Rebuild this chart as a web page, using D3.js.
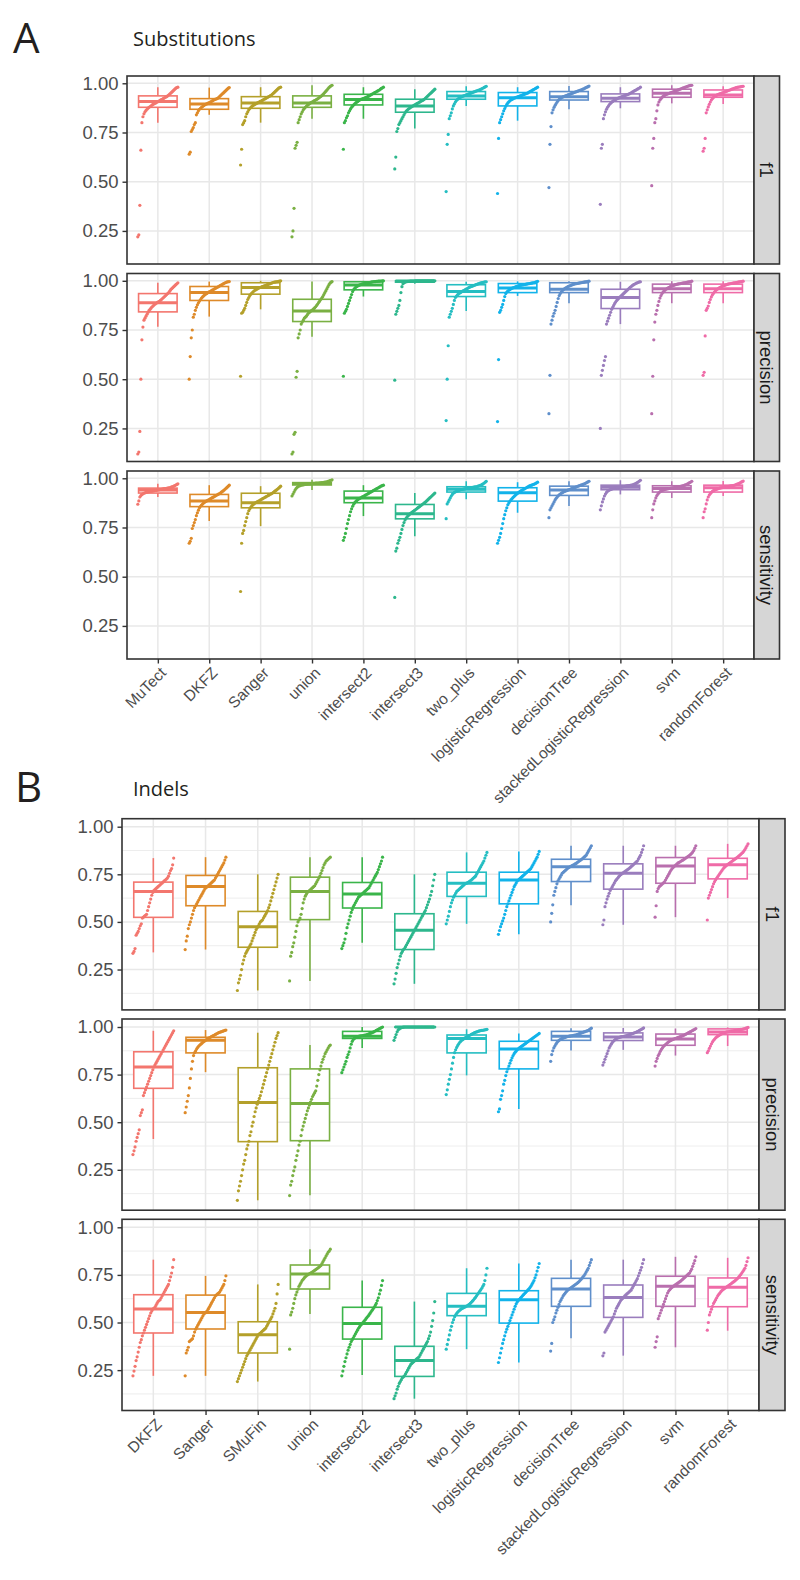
<!DOCTYPE html>
<html><head><meta charset="utf-8">
<script src="https://cdn.jsdelivr.net/npm/d3@7"></script>
<style>body{margin:0;background:#fff}svg{display:block}</style>
</head><body>
<svg id="chart" width="800" height="1580"></svg>
<script>
const categoriesA = ["MuTect","DKFZ","Sanger","union","intersect2","intersect3","two_plus","logisticRegression","decisionTree","stackedLogisticRegression","svm","randomForest"];
const categoriesB = ["DKFZ","Sanger","SMuFin","union","intersect2","intersect3","two_plus","logisticRegression","decisionTree","stackedLogisticRegression","svm","randomForest"];
const metrics = ["f1","precision","sensitivity"];
const yTicks = [0.25,0.5,0.75,1.0];
const minorTicksB = [0.125,0.375,0.625,0.875];
const palette = ["#F3766E","#DE8A29","#B4A02A","#7AB043","#3AB54A","#2DB78D","#25BEC2","#12B3EA","#5F8FCB","#9A7DBD","#B96FAE","#EF6BA7"];

// ---------- A: Substitutions (sorted per-sample values) ----------
const subF1Points = [
[0.22,0.23,0.38,0.66,0.80,0.83,0.845,0.855,0.862,0.868,0.874,0.878,0.882,0.886,0.89,0.893,0.896,0.899,0.902,0.905,0.908,0.911,0.914,0.917,0.92,0.923,0.926,0.929,0.932,0.936,0.94,0.945,0.95,0.955,0.96,0.965,0.97,0.975,0.978,0.98],
[0.64,0.65,0.755,0.765,0.775,0.79,0.80,0.84,0.85,0.86,0.868,0.873,0.878,0.882,0.886,0.89,0.893,0.895,0.898,0.90,0.903,0.906,0.909,0.912,0.915,0.918,0.92,0.922,0.925,0.93,0.935,0.94,0.945,0.95,0.955,0.96,0.965,0.97,0.975,0.978],
[0.585,0.665,0.79,0.80,0.81,0.83,0.845,0.855,0.865,0.872,0.878,0.883,0.887,0.89,0.893,0.896,0.899,0.902,0.905,0.908,0.91,0.913,0.916,0.919,0.922,0.925,0.928,0.931,0.934,0.937,0.94,0.945,0.95,0.955,0.96,0.965,0.97,0.975,0.978,0.98],
[0.22,0.25,0.365,0.67,0.685,0.70,0.80,0.815,0.83,0.845,0.855,0.865,0.872,0.878,0.883,0.888,0.892,0.896,0.90,0.903,0.906,0.909,0.912,0.915,0.918,0.921,0.925,0.929,0.933,0.937,0.942,0.948,0.954,0.96,0.966,0.972,0.978,0.983,0.987,0.99],
[0.665,0.80,0.81,0.825,0.835,0.85,0.86,0.87,0.878,0.885,0.89,0.895,0.90,0.904,0.908,0.912,0.915,0.918,0.92,0.922,0.924,0.926,0.928,0.93,0.933,0.936,0.939,0.942,0.945,0.948,0.951,0.954,0.957,0.96,0.963,0.966,0.97,0.974,0.977,0.98],
[0.565,0.625,0.755,0.77,0.79,0.80,0.81,0.82,0.83,0.84,0.85,0.857,0.863,0.868,0.872,0.876,0.88,0.883,0.886,0.889,0.892,0.895,0.898,0.901,0.904,0.907,0.91,0.913,0.916,0.92,0.925,0.93,0.935,0.94,0.945,0.95,0.955,0.96,0.965,0.97],
[0.45,0.69,0.74,0.82,0.835,0.85,0.87,0.885,0.895,0.905,0.912,0.918,0.922,0.926,0.929,0.932,0.934,0.936,0.938,0.94,0.942,0.944,0.946,0.948,0.95,0.952,0.954,0.956,0.958,0.96,0.962,0.964,0.966,0.968,0.97,0.973,0.976,0.979,0.982,0.985],
[0.44,0.72,0.80,0.815,0.83,0.845,0.86,0.872,0.883,0.893,0.90,0.906,0.911,0.915,0.918,0.921,0.924,0.926,0.928,0.93,0.932,0.934,0.936,0.938,0.94,0.942,0.944,0.946,0.948,0.95,0.953,0.956,0.959,0.962,0.965,0.968,0.971,0.974,0.977,0.98],
[0.47,0.69,0.78,0.85,0.865,0.878,0.888,0.897,0.905,0.912,0.918,0.922,0.926,0.929,0.932,0.934,0.936,0.938,0.94,0.942,0.944,0.946,0.948,0.95,0.952,0.954,0.956,0.958,0.96,0.962,0.964,0.966,0.968,0.97,0.972,0.975,0.978,0.98,0.983,0.986],
[0.385,0.67,0.69,0.82,0.84,0.855,0.868,0.878,0.886,0.893,0.899,0.904,0.908,0.912,0.915,0.918,0.921,0.924,0.926,0.928,0.93,0.932,0.934,0.936,0.938,0.94,0.942,0.944,0.946,0.949,0.952,0.955,0.958,0.961,0.964,0.967,0.97,0.973,0.976,0.98],
[0.48,0.67,0.72,0.80,0.82,0.86,0.89,0.905,0.915,0.922,0.928,0.933,0.937,0.94,0.943,0.945,0.947,0.949,0.951,0.953,0.955,0.957,0.959,0.961,0.963,0.965,0.967,0.969,0.971,0.973,0.975,0.977,0.979,0.981,0.983,0.985,0.987,0.988,0.989,0.99],
[0.655,0.67,0.72,0.85,0.865,0.88,0.893,0.905,0.915,0.922,0.928,0.932,0.936,0.939,0.942,0.944,0.946,0.948,0.95,0.952,0.954,0.956,0.958,0.96,0.962,0.964,0.966,0.968,0.97,0.972,0.974,0.976,0.978,0.979,0.98,0.981,0.982,0.983,0.984,0.985]
];
const subPrecPoints = [
[0.12,0.13,0.235,0.50,0.70,0.765,0.80,0.81,0.82,0.83,0.84,0.85,0.856,0.862,0.868,0.873,0.878,0.882,0.886,0.89,0.893,0.896,0.90,0.905,0.91,0.915,0.92,0.925,0.93,0.935,0.94,0.947,0.955,0.96,0.965,0.97,0.975,0.98,0.985,0.99],
[0.50,0.615,0.71,0.75,0.815,0.83,0.85,0.865,0.878,0.888,0.897,0.905,0.912,0.918,0.923,0.928,0.932,0.936,0.939,0.942,0.945,0.948,0.951,0.954,0.957,0.96,0.963,0.966,0.969,0.972,0.975,0.978,0.981,0.984,0.987,0.99,0.992,0.994,0.995,0.996],
[0.515,0.835,0.84,0.85,0.86,0.875,0.89,0.905,0.915,0.925,0.932,0.938,0.943,0.948,0.952,0.955,0.958,0.961,0.964,0.966,0.968,0.97,0.972,0.974,0.976,0.978,0.98,0.982,0.984,0.986,0.988,0.99,0.992,0.993,0.994,0.995,0.996,0.997,0.998,1.0],
[0.12,0.13,0.22,0.23,0.51,0.54,0.71,0.73,0.75,0.78,0.79,0.80,0.81,0.815,0.82,0.828,0.835,0.84,0.845,0.848,0.852,0.857,0.862,0.868,0.875,0.882,0.89,0.897,0.905,0.912,0.92,0.93,0.94,0.95,0.96,0.97,0.98,0.988,0.993,0.996],
[0.515,0.835,0.845,0.855,0.87,0.885,0.90,0.915,0.93,0.945,0.955,0.962,0.967,0.971,0.974,0.977,0.979,0.981,0.983,0.985,0.986,0.987,0.988,0.989,0.99,0.991,0.992,0.993,0.994,0.995,0.996,0.996,0.997,0.997,0.998,0.998,0.999,0.999,1.0,1.0],
[0.495,0.83,0.845,0.86,0.875,0.90,0.94,0.97,0.985,0.99,0.993,0.995,0.996,0.997,0.997,0.998,0.998,0.998,0.999,0.999,1,1,1,1,1,1,1,1,1,1,1,1,1,1,1,1,1,1,1,1],
[0.29,0.50,0.67,0.815,0.83,0.845,0.86,0.88,0.90,0.915,0.922,0.928,0.933,0.937,0.941,0.944,0.947,0.95,0.953,0.956,0.959,0.962,0.965,0.968,0.97,0.972,0.974,0.976,0.978,0.98,0.982,0.984,0.986,0.988,0.99,0.991,0.992,0.993,0.994,0.995],
[0.285,0.60,0.84,0.85,0.865,0.88,0.90,0.92,0.935,0.943,0.948,0.952,0.956,0.959,0.962,0.964,0.966,0.968,0.97,0.972,0.974,0.976,0.977,0.978,0.979,0.98,0.981,0.982,0.983,0.984,0.985,0.986,0.987,0.988,0.989,0.99,0.991,0.993,0.995,0.997],
[0.325,0.52,0.78,0.80,0.82,0.835,0.85,0.87,0.89,0.91,0.925,0.935,0.943,0.95,0.955,0.959,0.963,0.966,0.969,0.972,0.974,0.976,0.978,0.98,0.982,0.984,0.985,0.986,0.987,0.988,0.989,0.99,0.991,0.992,0.993,0.994,0.995,0.996,0.997,0.998],
[0.25,0.52,0.545,0.57,0.595,0.615,0.78,0.795,0.81,0.825,0.84,0.855,0.865,0.875,0.885,0.893,0.90,0.906,0.912,0.917,0.922,0.927,0.932,0.937,0.942,0.947,0.952,0.957,0.962,0.967,0.971,0.975,0.979,0.982,0.985,0.988,0.99,0.992,0.994,0.995],
[0.325,0.515,0.70,0.79,0.83,0.85,0.875,0.895,0.912,0.925,0.935,0.942,0.948,0.953,0.957,0.961,0.964,0.967,0.97,0.972,0.974,0.976,0.978,0.98,0.982,0.983,0.984,0.985,0.986,0.987,0.988,0.989,0.99,0.991,0.992,0.993,0.994,0.995,0.996,0.998],
[0.52,0.535,0.72,0.85,0.86,0.872,0.89,0.905,0.918,0.928,0.936,0.943,0.949,0.954,0.958,0.962,0.965,0.968,0.971,0.973,0.975,0.977,0.979,0.981,0.983,0.984,0.985,0.986,0.987,0.988,0.989,0.99,0.991,0.992,0.993,0.994,0.995,0.996,0.997,0.998]
];
const subSensPoints = [
[0.868,0.885,0.905,0.912,0.917,0.921,0.924,0.926,0.928,0.93,0.931,0.932,0.933,0.934,0.935,0.936,0.937,0.938,0.939,0.94,0.941,0.942,0.943,0.944,0.945,0.946,0.947,0.948,0.949,0.95,0.951,0.952,0.954,0.956,0.958,0.96,0.963,0.966,0.969,0.972],
[0.67,0.68,0.695,0.745,0.76,0.775,0.79,0.81,0.825,0.838,0.85,0.858,0.864,0.869,0.874,0.878,0.882,0.885,0.888,0.891,0.894,0.897,0.90,0.903,0.906,0.909,0.912,0.915,0.918,0.921,0.924,0.928,0.932,0.936,0.94,0.945,0.95,0.955,0.96,0.965],
[0.425,0.67,0.72,0.735,0.76,0.78,0.80,0.82,0.835,0.845,0.853,0.86,0.865,0.87,0.874,0.877,0.88,0.883,0.886,0.889,0.892,0.895,0.898,0.901,0.904,0.907,0.91,0.913,0.916,0.919,0.922,0.925,0.929,0.933,0.937,0.941,0.945,0.95,0.955,0.96],
[0.91,0.92,0.93,0.94,0.948,0.954,0.958,0.961,0.963,0.965,0.966,0.967,0.968,0.969,0.97,0.971,0.971,0.972,0.972,0.973,0.973,0.974,0.974,0.975,0.975,0.976,0.976,0.977,0.977,0.978,0.978,0.979,0.98,0.981,0.982,0.984,0.986,0.988,0.99,0.992],
[0.685,0.70,0.72,0.745,0.77,0.79,0.81,0.83,0.845,0.858,0.868,0.876,0.882,0.887,0.891,0.895,0.898,0.901,0.904,0.907,0.91,0.913,0.916,0.919,0.922,0.925,0.928,0.931,0.934,0.937,0.94,0.943,0.946,0.949,0.952,0.955,0.958,0.961,0.963,0.965],
[0.395,0.63,0.645,0.67,0.685,0.70,0.72,0.74,0.76,0.775,0.788,0.797,0.804,0.81,0.815,0.82,0.824,0.828,0.832,0.836,0.84,0.844,0.848,0.852,0.856,0.86,0.864,0.868,0.872,0.876,0.88,0.885,0.89,0.895,0.90,0.905,0.91,0.915,0.92,0.925],
[0.795,0.87,0.88,0.89,0.90,0.91,0.918,0.924,0.928,0.931,0.934,0.936,0.938,0.94,0.942,0.943,0.944,0.945,0.946,0.947,0.948,0.949,0.95,0.951,0.952,0.953,0.954,0.955,0.956,0.957,0.958,0.96,0.962,0.964,0.966,0.969,0.972,0.976,0.98,0.985],
[0.67,0.685,0.70,0.72,0.745,0.77,0.795,0.815,0.835,0.85,0.865,0.875,0.883,0.89,0.896,0.902,0.907,0.912,0.917,0.922,0.926,0.93,0.934,0.937,0.94,0.943,0.946,0.949,0.952,0.955,0.958,0.961,0.963,0.965,0.967,0.969,0.971,0.974,0.977,0.98],
[0.80,0.84,0.85,0.86,0.87,0.88,0.89,0.898,0.905,0.911,0.916,0.92,0.924,0.927,0.93,0.933,0.935,0.937,0.939,0.941,0.943,0.945,0.947,0.949,0.951,0.953,0.955,0.957,0.959,0.961,0.963,0.965,0.967,0.969,0.971,0.973,0.976,0.979,0.982,0.985],
[0.84,0.86,0.88,0.895,0.91,0.92,0.928,0.934,0.938,0.941,0.943,0.945,0.947,0.948,0.949,0.95,0.951,0.952,0.953,0.954,0.955,0.956,0.957,0.958,0.959,0.96,0.961,0.962,0.963,0.964,0.965,0.966,0.968,0.97,0.972,0.975,0.978,0.982,0.986,0.99],
[0.80,0.84,0.87,0.885,0.90,0.912,0.92,0.926,0.931,0.935,0.938,0.94,0.942,0.944,0.945,0.946,0.947,0.948,0.949,0.95,0.951,0.952,0.953,0.954,0.955,0.956,0.957,0.958,0.959,0.96,0.961,0.963,0.965,0.967,0.969,0.972,0.975,0.978,0.981,0.985],
[0.80,0.83,0.845,0.87,0.89,0.905,0.915,0.922,0.928,0.933,0.937,0.94,0.942,0.944,0.946,0.948,0.95,0.951,0.952,0.953,0.954,0.955,0.956,0.957,0.958,0.959,0.96,0.961,0.962,0.963,0.964,0.966,0.968,0.97,0.972,0.974,0.977,0.98,0.983,0.986]
];
// box stats: [lower whisker, Q1, median, Q3, upper whisker]
const subF1Box = [[0.80,0.878,0.907,0.936,0.98],[0.84,0.868,0.895,0.922,0.978],[0.80,0.873,0.90,0.932,0.98],[0.82,0.878,0.90,0.936,0.99],[0.82,0.89,0.918,0.944,0.98],[0.77,0.853,0.885,0.919,0.97],[0.885,0.919,0.936,0.958,0.985],[0.81,0.885,0.927,0.953,0.98],[0.868,0.915,0.932,0.958,0.986],[0.873,0.907,0.924,0.946,0.98],[0.898,0.929,0.95,0.97,0.99],[0.895,0.929,0.94,0.966,0.985]];
const subPrecBox = [[0.767,0.842,0.889,0.935,0.99],[0.818,0.90,0.94,0.971,0.996],[0.855,0.932,0.966,0.99,1.0],[0.716,0.793,0.847,0.906,0.996],[0.92,0.954,0.978,0.995,1.0],[0.985,0.993,0.999,1.0,1.0],[0.847,0.92,0.945,0.98,0.995],[0.923,0.94,0.963,0.986,0.997],[0.886,0.94,0.957,0.99,0.998],[0.78,0.859,0.915,0.957,0.995],[0.886,0.94,0.96,0.983,0.998],[0.886,0.94,0.96,0.983,0.998]];
const subSensBox = [[0.905,0.925,0.94,0.95,0.972],[0.783,0.856,0.885,0.918,0.965],[0.757,0.85,0.876,0.924,0.96],[0.94,0.966,0.973,0.978,0.992],[0.808,0.876,0.90,0.935,0.965],[0.706,0.794,0.82,0.867,0.925],[0.893,0.93,0.944,0.957,0.985],[0.825,0.884,0.927,0.952,0.98],[0.859,0.913,0.94,0.96,0.985],[0.918,0.942,0.954,0.965,0.99],[0.90,0.93,0.948,0.962,0.985],[0.91,0.93,0.952,0.965,0.986]];

// ---------- B: Indels ----------
const indF1Points = [
[0.335,0.345,0.36,0.43,0.44,0.45,0.465,0.48,0.49,0.52,0.525,0.53,0.535,0.54,0.56,0.58,0.60,0.62,0.64,0.655,0.665,0.67,0.675,0.68,0.685,0.69,0.695,0.70,0.705,0.71,0.715,0.72,0.725,0.73,0.74,0.755,0.77,0.78,0.80,0.835],
[0.355,0.40,0.425,0.465,0.485,0.50,0.52,0.54,0.56,0.575,0.585,0.595,0.605,0.615,0.625,0.635,0.645,0.655,0.665,0.675,0.68,0.685,0.69,0.695,0.70,0.705,0.71,0.715,0.72,0.73,0.74,0.75,0.76,0.77,0.78,0.79,0.80,0.81,0.825,0.84],
[0.14,0.18,0.20,0.22,0.25,0.28,0.30,0.32,0.335,0.345,0.355,0.365,0.375,0.385,0.40,0.415,0.43,0.445,0.46,0.47,0.48,0.49,0.50,0.505,0.51,0.52,0.53,0.54,0.55,0.56,0.575,0.59,0.61,0.63,0.65,0.67,0.69,0.71,0.73,0.75],
[0.19,0.32,0.34,0.37,0.39,0.42,0.45,0.48,0.50,0.51,0.52,0.54,0.57,0.60,0.62,0.635,0.645,0.655,0.66,0.665,0.67,0.675,0.68,0.685,0.69,0.70,0.71,0.72,0.73,0.74,0.755,0.77,0.785,0.80,0.81,0.82,0.825,0.83,0.835,0.84],
[0.36,0.375,0.39,0.41,0.44,0.47,0.49,0.51,0.53,0.55,0.565,0.58,0.59,0.60,0.61,0.62,0.63,0.635,0.64,0.645,0.65,0.655,0.66,0.665,0.67,0.675,0.68,0.69,0.70,0.71,0.72,0.73,0.74,0.75,0.76,0.775,0.79,0.805,0.82,0.84],
[0.175,0.20,0.23,0.26,0.28,0.30,0.32,0.335,0.345,0.355,0.36,0.37,0.38,0.39,0.40,0.41,0.42,0.43,0.44,0.45,0.46,0.47,0.48,0.49,0.50,0.51,0.52,0.53,0.54,0.55,0.56,0.575,0.59,0.605,0.62,0.64,0.66,0.69,0.72,0.75],
[0.49,0.51,0.53,0.555,0.58,0.60,0.615,0.63,0.64,0.65,0.66,0.665,0.67,0.675,0.68,0.685,0.69,0.695,0.70,0.702,0.705,0.708,0.712,0.716,0.72,0.725,0.73,0.735,0.74,0.75,0.76,0.77,0.78,0.79,0.80,0.81,0.82,0.835,0.85,0.865],
[0.435,0.455,0.475,0.49,0.505,0.52,0.54,0.56,0.58,0.595,0.61,0.625,0.64,0.655,0.67,0.685,0.695,0.705,0.715,0.72,0.725,0.73,0.735,0.74,0.745,0.75,0.755,0.76,0.765,0.77,0.775,0.78,0.79,0.80,0.81,0.82,0.83,0.84,0.855,0.87],
[0.50,0.545,0.59,0.64,0.66,0.68,0.70,0.715,0.725,0.735,0.745,0.755,0.76,0.765,0.77,0.775,0.78,0.785,0.788,0.791,0.794,0.797,0.80,0.803,0.806,0.81,0.814,0.818,0.822,0.826,0.83,0.835,0.84,0.845,0.85,0.86,0.87,0.88,0.89,0.90],
[0.485,0.51,0.58,0.60,0.62,0.635,0.65,0.665,0.675,0.685,0.695,0.705,0.715,0.722,0.729,0.736,0.742,0.748,0.752,0.756,0.76,0.764,0.768,0.772,0.776,0.78,0.785,0.79,0.795,0.80,0.805,0.81,0.815,0.82,0.83,0.84,0.85,0.865,0.88,0.90],
[0.525,0.585,0.66,0.675,0.685,0.69,0.695,0.70,0.705,0.71,0.72,0.73,0.74,0.75,0.76,0.77,0.778,0.785,0.79,0.795,0.80,0.805,0.81,0.813,0.816,0.82,0.823,0.826,0.83,0.834,0.838,0.842,0.846,0.85,0.855,0.86,0.867,0.875,0.887,0.90],
[0.51,0.625,0.64,0.655,0.67,0.685,0.70,0.712,0.722,0.73,0.738,0.746,0.754,0.762,0.77,0.778,0.785,0.79,0.795,0.80,0.804,0.808,0.812,0.816,0.82,0.824,0.828,0.832,0.836,0.84,0.845,0.85,0.855,0.86,0.865,0.872,0.88,0.89,0.90,0.91]
];
const indPrecPoints = [
[0.33,0.35,0.37,0.40,0.42,0.44,0.46,0.535,0.55,0.565,0.64,0.655,0.67,0.685,0.70,0.715,0.73,0.745,0.76,0.775,0.79,0.80,0.81,0.82,0.83,0.84,0.85,0.86,0.87,0.88,0.89,0.90,0.91,0.92,0.93,0.94,0.95,0.96,0.97,0.98],
[0.55,0.58,0.61,0.64,0.68,0.73,0.78,0.82,0.85,0.865,0.875,0.885,0.893,0.90,0.905,0.91,0.915,0.92,0.924,0.928,0.932,0.936,0.94,0.943,0.946,0.949,0.952,0.955,0.958,0.961,0.964,0.967,0.97,0.972,0.974,0.976,0.978,0.98,0.982,0.984],
[0.09,0.14,0.165,0.19,0.22,0.25,0.28,0.30,0.33,0.36,0.38,0.40,0.43,0.45,0.48,0.50,0.53,0.555,0.575,0.595,0.61,0.625,0.64,0.66,0.68,0.70,0.72,0.74,0.76,0.78,0.80,0.82,0.84,0.86,0.88,0.90,0.92,0.94,0.955,0.97],
[0.115,0.17,0.19,0.22,0.245,0.265,0.30,0.325,0.35,0.38,0.40,0.43,0.46,0.48,0.50,0.52,0.54,0.56,0.575,0.59,0.605,0.62,0.635,0.645,0.655,0.665,0.69,0.72,0.75,0.775,0.795,0.815,0.83,0.845,0.86,0.87,0.88,0.89,0.90,0.905],
[0.76,0.775,0.79,0.805,0.82,0.84,0.855,0.87,0.89,0.91,0.925,0.935,0.94,0.944,0.947,0.949,0.951,0.952,0.953,0.954,0.955,0.956,0.957,0.958,0.96,0.962,0.964,0.966,0.968,0.97,0.973,0.976,0.979,0.982,0.985,0.988,0.991,0.994,0.997,1.0],
[0.93,0.945,0.96,0.975,0.985,0.99,0.994,0.997,0.998,0.999,1,1,1,1,1,1,1,1,1,1,1,1,1,1,1,1,1,1,1,1,1,1,1,1,1,1,1,1,1,1],
[0.645,0.67,0.70,0.725,0.75,0.78,0.81,0.84,0.865,0.88,0.893,0.903,0.912,0.92,0.926,0.931,0.935,0.939,0.943,0.946,0.949,0.952,0.955,0.958,0.961,0.964,0.967,0.97,0.972,0.974,0.976,0.978,0.98,0.981,0.982,0.983,0.984,0.985,0.986,0.988],
[0.555,0.57,0.62,0.64,0.665,0.70,0.72,0.745,0.765,0.78,0.795,0.81,0.825,0.838,0.85,0.86,0.868,0.874,0.88,0.885,0.89,0.894,0.898,0.902,0.906,0.91,0.914,0.918,0.922,0.926,0.93,0.934,0.938,0.942,0.946,0.95,0.954,0.958,0.962,0.966],
[0.82,0.855,0.875,0.89,0.90,0.91,0.918,0.925,0.93,0.934,0.937,0.94,0.942,0.944,0.946,0.948,0.95,0.951,0.952,0.953,0.954,0.955,0.956,0.957,0.958,0.96,0.962,0.964,0.966,0.968,0.97,0.972,0.974,0.976,0.978,0.98,0.983,0.986,0.99,0.994],
[0.80,0.815,0.83,0.845,0.86,0.875,0.89,0.90,0.91,0.918,0.925,0.93,0.935,0.939,0.942,0.944,0.946,0.948,0.949,0.95,0.951,0.952,0.953,0.955,0.957,0.959,0.961,0.963,0.965,0.967,0.969,0.971,0.973,0.976,0.979,0.982,0.985,0.988,0.991,0.995],
[0.795,0.82,0.835,0.85,0.86,0.872,0.882,0.89,0.897,0.903,0.908,0.913,0.918,0.922,0.926,0.929,0.932,0.935,0.937,0.939,0.941,0.943,0.945,0.947,0.949,0.951,0.953,0.955,0.958,0.961,0.964,0.967,0.97,0.973,0.976,0.979,0.982,0.985,0.988,0.992],
[0.865,0.875,0.888,0.90,0.912,0.922,0.93,0.937,0.943,0.948,0.952,0.956,0.959,0.962,0.965,0.967,0.969,0.971,0.973,0.974,0.975,0.976,0.977,0.978,0.979,0.98,0.981,0.982,0.983,0.984,0.985,0.986,0.987,0.988,0.989,0.99,0.992,0.994,0.996,0.998]
];
const indSensPoints = [
[0.22,0.245,0.27,0.30,0.32,0.345,0.37,0.395,0.41,0.43,0.445,0.46,0.475,0.49,0.505,0.52,0.535,0.55,0.56,0.57,0.575,0.58,0.59,0.60,0.61,0.615,0.62,0.63,0.64,0.65,0.66,0.67,0.68,0.69,0.70,0.72,0.74,0.76,0.79,0.83],
[0.22,0.34,0.355,0.37,0.40,0.405,0.41,0.415,0.43,0.45,0.465,0.475,0.485,0.495,0.505,0.515,0.525,0.535,0.545,0.55,0.555,0.56,0.57,0.58,0.59,0.60,0.61,0.62,0.63,0.64,0.645,0.65,0.655,0.66,0.67,0.68,0.69,0.70,0.72,0.745],
[0.19,0.205,0.22,0.235,0.25,0.265,0.28,0.295,0.31,0.325,0.335,0.345,0.355,0.365,0.375,0.385,0.395,0.405,0.415,0.425,0.435,0.44,0.445,0.45,0.455,0.46,0.465,0.47,0.48,0.49,0.50,0.51,0.52,0.53,0.545,0.56,0.575,0.60,0.65,0.70],
[0.36,0.54,0.555,0.575,0.60,0.625,0.645,0.66,0.675,0.69,0.70,0.71,0.72,0.727,0.734,0.74,0.745,0.75,0.753,0.756,0.759,0.762,0.766,0.77,0.774,0.778,0.782,0.786,0.79,0.795,0.80,0.81,0.82,0.83,0.84,0.85,0.86,0.87,0.875,0.885],
[0.22,0.245,0.27,0.295,0.315,0.335,0.355,0.37,0.385,0.40,0.41,0.42,0.43,0.44,0.45,0.46,0.47,0.478,0.485,0.492,0.498,0.505,0.512,0.519,0.526,0.533,0.54,0.548,0.556,0.564,0.572,0.58,0.59,0.60,0.615,0.63,0.65,0.67,0.695,0.72],
[0.10,0.115,0.13,0.15,0.165,0.18,0.19,0.20,0.21,0.215,0.22,0.23,0.24,0.25,0.26,0.27,0.28,0.285,0.29,0.295,0.30,0.305,0.31,0.315,0.32,0.33,0.34,0.35,0.36,0.37,0.38,0.39,0.40,0.415,0.43,0.45,0.48,0.51,0.55,0.61],
[0.36,0.385,0.41,0.435,0.46,0.48,0.50,0.515,0.53,0.54,0.548,0.555,0.56,0.565,0.57,0.573,0.576,0.579,0.582,0.585,0.588,0.592,0.596,0.60,0.606,0.612,0.618,0.625,0.632,0.64,0.648,0.656,0.664,0.672,0.68,0.69,0.70,0.72,0.75,0.785],
[0.29,0.315,0.34,0.365,0.39,0.41,0.43,0.45,0.465,0.48,0.495,0.51,0.525,0.54,0.555,0.57,0.585,0.598,0.608,0.616,0.622,0.628,0.634,0.64,0.646,0.652,0.658,0.664,0.67,0.676,0.682,0.69,0.70,0.71,0.72,0.735,0.75,0.77,0.79,0.81],
[0.35,0.39,0.50,0.515,0.53,0.55,0.565,0.58,0.595,0.61,0.62,0.63,0.64,0.648,0.655,0.662,0.668,0.673,0.677,0.681,0.685,0.689,0.693,0.697,0.701,0.705,0.709,0.714,0.72,0.726,0.733,0.74,0.747,0.755,0.765,0.775,0.785,0.80,0.815,0.83],
[0.325,0.34,0.45,0.46,0.47,0.48,0.49,0.50,0.51,0.52,0.53,0.545,0.56,0.575,0.585,0.595,0.605,0.615,0.622,0.628,0.634,0.64,0.645,0.65,0.655,0.66,0.665,0.67,0.68,0.69,0.70,0.71,0.72,0.73,0.745,0.76,0.775,0.79,0.81,0.83],
[0.37,0.40,0.425,0.52,0.535,0.55,0.565,0.58,0.595,0.61,0.625,0.64,0.655,0.665,0.672,0.678,0.684,0.688,0.692,0.696,0.70,0.704,0.708,0.712,0.716,0.72,0.725,0.73,0.735,0.74,0.745,0.75,0.755,0.76,0.77,0.78,0.795,0.81,0.825,0.845],
[0.46,0.50,0.54,0.555,0.57,0.585,0.60,0.61,0.62,0.63,0.64,0.648,0.655,0.662,0.668,0.673,0.677,0.681,0.685,0.689,0.693,0.697,0.701,0.705,0.709,0.713,0.717,0.722,0.727,0.732,0.738,0.745,0.752,0.76,0.768,0.776,0.785,0.80,0.82,0.84]
];
const indF1Box = [[0.34,0.524,0.66,0.709,0.835],[0.355,0.585,0.686,0.744,0.84],[0.14,0.367,0.475,0.555,0.75],[0.19,0.512,0.66,0.735,0.84],[0.39,0.573,0.646,0.707,0.84],[0.175,0.355,0.456,0.543,0.75],[0.49,0.634,0.703,0.761,0.865],[0.435,0.595,0.72,0.761,0.87],[0.587,0.712,0.79,0.829,0.90],[0.485,0.672,0.756,0.805,0.90],[0.525,0.703,0.794,0.838,0.90],[0.625,0.726,0.80,0.834,0.91]];
const indPrecBox = [[0.412,0.678,0.79,0.87,0.98],[0.763,0.864,0.93,0.946,0.984],[0.09,0.398,0.603,0.786,0.97],[0.117,0.403,0.598,0.78,0.905],[0.89,0.94,0.951,0.977,1.0],[0.998,0.9995,1,1,1],[0.746,0.864,0.94,0.958,0.988],[0.569,0.78,0.885,0.925,0.966],[0.876,0.93,0.951,0.977,0.994],[0.88,0.929,0.948,0.969,0.995],[0.85,0.904,0.937,0.963,0.992],[0.90,0.96,0.974,0.99,0.998]];
const indSensBox = [[0.22,0.445,0.571,0.646,0.83],[0.22,0.466,0.553,0.644,0.745],[0.19,0.34,0.436,0.504,0.70],[0.545,0.676,0.755,0.802,0.885],[0.224,0.413,0.495,0.58,0.72],[0.10,0.217,0.30,0.375,0.61],[0.36,0.536,0.585,0.653,0.785],[0.29,0.497,0.62,0.667,0.81],[0.417,0.585,0.676,0.732,0.83],[0.326,0.527,0.632,0.697,0.83],[0.37,0.585,0.69,0.743,0.845],[0.457,0.583,0.685,0.734,0.84]];

// ---------- layout ----------
const figures = [
  {letter:"A", title:"Substitutions", cats:categoriesA,
   points:[subF1Points,subPrecPoints,subSensPoints], boxes:[subF1Box,subPrecBox,subSensBox],
   L:{letterX:13, letterY:53, titleX:133, titleY:46, left:127, right:754, stripW:25.5,
      tops:[76,273.5,471], height:188, yDomain:[0.082,1.037], minor:false}},
  {letter:"B", title:"Indels", cats:categoriesB,
   points:[indF1Points,indPrecPoints,indSensPoints], boxes:[indF1Box,indPrecBox,indSensBox],
   L:{letterX:15, letterY:802, titleX:133, titleY:796, left:122, right:759, stripW:26,
      tops:[818.7,1019,1219.3], height:191.2, yDomain:[0.038,1.042], minor:true}}
];

const svg = d3.select("#chart");
const axisFont = "'Liberation Sans', Arial, Helvetica, sans-serif";
const titleFont = "'Open Sans', 'Noto Sans', sans-serif";

figures.forEach(fig => {
  const L = fig.L;
  svg.append("text").attr("x",L.letterX).attr("y",L.letterY).text(fig.letter)
    .attr("font-family",titleFont).attr("font-size",42).attr("fill","#231F20");
  svg.append("text").attr("x",L.titleX).attr("y",L.titleY).text(fig.title)
    .attr("font-family",titleFont).attr("font-size",20).attr("fill","#231F20");

  const x = d3.scalePoint().domain(fig.cats).range([L.left, L.right]).padding(0.6);
  const step = x.step();
  const bw = 0.75*step, sw = 0.78*step;

  metrics.forEach((m, pi) => {
    const top = L.tops[pi], bottom = top + L.height;
    const y = d3.scaleLinear().domain(L.yDomain).range([bottom, top]);
    const g = svg.append("g");
    g.append("rect").attr("x",L.left).attr("y",top).attr("width",L.right-L.left).attr("height",L.height).attr("fill","#fff");
    if (L.minor) {
      g.selectAll(null).data(minorTicksB).join("line")
        .attr("x1",L.left).attr("x2",L.right).attr("y1",d=>y(d)).attr("y2",d=>y(d))
        .attr("stroke","#EBEBEB").attr("stroke-width",0.9);
    }
    g.selectAll(null).data(yTicks).join("line")
      .attr("x1",L.left).attr("x2",L.right).attr("y1",d=>y(d)).attr("y2",d=>y(d))
      .attr("stroke","#E8E8E8").attr("stroke-width",1.5);
    g.selectAll(null).data(fig.cats).join("line")
      .attr("x1",d=>x(d)).attr("x2",d=>x(d)).attr("y1",top).attr("y2",bottom)
      .attr("stroke","#E8E8E8").attr("stroke-width",1.5);

    // boxplots
    fig.cats.forEach((c, ci) => {
      const [lo,q1,med,q3,hi] = fig.boxes[pi][ci];
      const cx = x(c), col = palette[ci];
      const bg = g.append("g").attr("stroke",col).attr("fill","none");
      bg.append("line").attr("x1",cx).attr("x2",cx).attr("y1",y(q3)).attr("y2",y(hi)).attr("stroke-width",1.6);
      bg.append("line").attr("x1",cx).attr("x2",cx).attr("y1",y(q1)).attr("y2",y(lo)).attr("stroke-width",1.6);
      bg.append("rect").attr("x",cx-bw/2).attr("width",bw).attr("y",y(q3)).attr("height",Math.max(0,y(q1)-y(q3)))
        .attr("fill","#fff").attr("stroke-width",1.6);
      bg.append("line").attr("x1",cx-bw/2).attr("x2",cx+bw/2).attr("y1",y(med)).attr("y2",y(med)).attr("stroke-width",3);
    });
    // sorted sample points spread across each box
    fig.cats.forEach((c, ci) => {
      const pts = fig.points[pi][ci], n = pts.length, cx = x(c);
      g.append("g").selectAll("circle").data(pts).join("circle")
        .attr("cx",(d,i)=>cx - sw/2 + i/(n-1)*sw).attr("cy",d=>y(d)).attr("r",1.6)
        .attr("fill",palette[ci]);
    });

    g.append("rect").attr("x",L.left).attr("y",top).attr("width",L.right-L.left).attr("height",L.height)
      .attr("fill","none").attr("stroke","#333333").attr("stroke-width",1.6);
    // strip
    g.append("rect").attr("x",L.right).attr("y",top).attr("width",L.stripW).attr("height",L.height)
      .attr("fill","#D6D6D6").attr("stroke","#333333").attr("stroke-width",1.6);
    g.append("text").attr("transform",`translate(${L.right+L.stripW/2},${top+L.height/2}) rotate(90)`)
      .attr("text-anchor","middle").attr("dy","0.35em").text(m)
      .attr("font-family",axisFont).attr("font-size",18.5).attr("fill","#1A1A1A");

    // y axis
    const ya = g.append("g").attr("transform",`translate(${L.left},0)`)
      .call(d3.axisLeft(y).tickValues(yTicks).tickFormat(d3.format(".2f")).tickSize(4.5).tickPadding(4));
    ya.select(".domain").remove();
    ya.selectAll(".tick line").attr("stroke","#333333").attr("stroke-width",1.4);
    ya.selectAll(".tick text").attr("fill","#4D4D4D").attr("font-size",18.5).attr("font-family",axisFont);

    if (pi === 2) {
      const xa = g.append("g").attr("transform",`translate(0,${bottom})`)
        .call(d3.axisBottom(x).tickSize(4.5));
      xa.select(".domain").remove();
      xa.selectAll(".tick line").attr("stroke","#333333").attr("stroke-width",1.4);
      xa.selectAll(".tick text")
        .attr("x",0).attr("y",0).attr("dy","0.71em")
        .attr("transform","translate(1,7) rotate(-45)")
        .attr("text-anchor","end")
        .attr("fill","#4D4D4D").attr("font-size",15.5).attr("font-family",axisFont);
    }
  });
});
</script>
</body></html>
